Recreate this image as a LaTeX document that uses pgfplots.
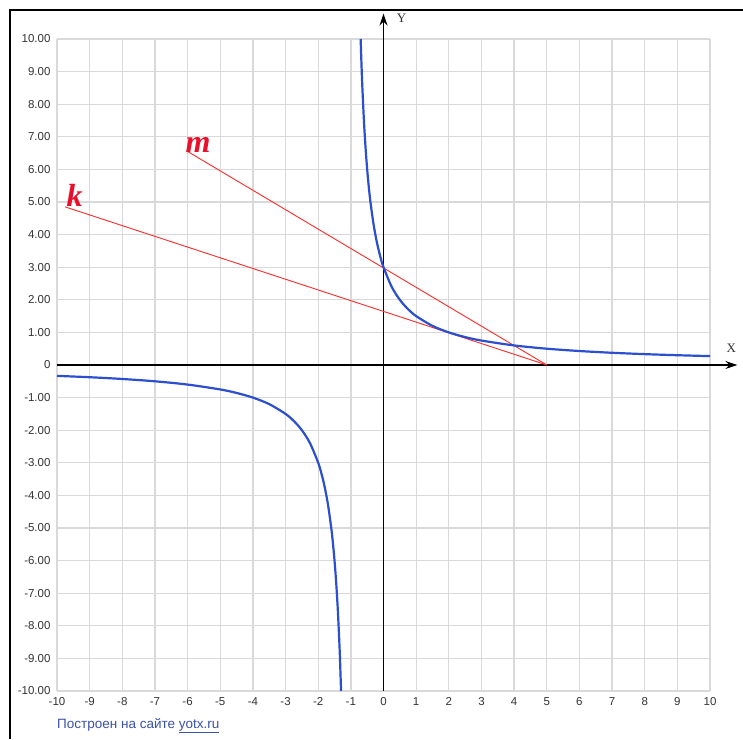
\documentclass[border=0pt]{standalone}
\usepackage{fontspec}
\setmainfont{Liberation Sans}
\newfontfamily\serifb{Liberation Serif}
\usepackage{pgfplots}
\pgfplotsset{compat=1.18}
\usetikzlibrary{arrows.meta}
\definecolor{gridc}{HTML}{D9D9D9}
\definecolor{curve}{HTML}{2B4FCF}
\definecolor{redl}{HTML}{FF2A2A}
\definecolor{redt}{HTML}{E8102A}
\definecolor{linkc}{HTML}{3A52A8}
\definecolor{tickc}{HTML}{333333}
\begin{document}
\begin{tikzpicture}
\useasboundingbox (0pt,0pt) rectangle (743pt,739pt);
\fill[white] (0pt,0pt) rectangle (743pt,739pt);
\draw[line width=2pt] (10pt,0pt) -- (10pt,729pt) -- (743pt,729pt);
\begin{axis}[
  at={(57pt,48pt)}, anchor=south west,
  scale only axis, width=653pt, height=652pt,
  xmin=-10, xmax=10, ymin=-10, ymax=10,
  axis line style={draw=none},
  grid=major, grid style={gridc, line width=1.3pt},
  major tick length=0pt,
  xtick={-10,-9,...,10}, ytick={-10,-9,...,10},
  yticklabels={-10.00,-9.00,-8.00,-7.00,-6.00,-5.00,-4.00,-3.00,-2.00,-1.00,0,1.00,2.00,3.00,4.00,5.00,6.00,7.00,8.00,9.00,10.00},
  xticklabel style={font=\fontsize{11.5}{13}\selectfont, text=tickc, yshift=-3pt},
  yticklabel style={font=\fontsize{11.5}{13}\selectfont, text=tickc, xshift=-3pt},
  /pgf/number format/assume math mode=true,
  clip=false,
]
\draw[black, line width=1.2pt, -{Stealth[length=12pt,width=8pt]}] (axis cs:-10,0) -- (axis cs:10.84,0);
\draw[black, line width=1.2pt, -{Stealth[length=12pt,width=8pt]}] (axis cs:0,-10) -- (axis cs:0,10.78);
\node[font=\serifb\fontsize{13}{15}\selectfont, text=tickc] at (axis cs:10.65,0.5) {X};
\node[font=\serifb\fontsize{13}{15}\selectfont, text=tickc] at (axis cs:0.55,10.65) {Y};
\addplot[redl, line width=0.9pt] coordinates {(-6,6.55) (5,0)};
\addplot[redl, line width=0.9pt] coordinates {(-9.75,4.85) (5,0)};
\addplot[curve, line width=2.2pt, smooth] coordinates {
(-0.7,10) (-0.67,9.091) (-0.65,8.571) (-0.6,7.5) (-0.55,6.667) (-0.5,6) (-0.45,5.455) (-0.4,5) (-0.3,4.286) (-0.2,3.75) (-0.1,3.333) (0,3) (0.25,2.4) (0.5,2) (0.75,1.714) (1,1.5) (1.5,1.2) (2,1) (2.5,0.857) (3,0.75) (4,0.6) (5,0.5) (6,0.4286) (7,0.375) (8,0.3333) (9,0.3) (10,0.2727)};
\addplot[curve, line width=2.2pt, smooth] coordinates {
(-10,-0.3333) (-9,-0.375) (-8,-0.4286) (-7,-0.5) (-6,-0.6) (-5,-0.75) (-4.5,-0.857) (-4,-1) (-3.5,-1.2) (-3,-1.5) (-2.75,-1.714) (-2.5,-2) (-2.25,-2.4) (-2,-3) (-1.9,-3.333) (-1.8,-3.75) (-1.7,-4.286) (-1.6,-5) (-1.55,-5.455) (-1.5,-6) (-1.45,-6.667) (-1.4,-7.5) (-1.35,-8.571) (-1.33,-9.091) (-1.3,-10)};
\node[font=\serifb\bfseries\itshape\fontsize{32}{34}\selectfont, text=redt, anchor=base] at (axis cs:-5.68,6.53) {m};
\node[font=\serifb\bfseries\itshape\fontsize{32}{34}\selectfont, text=redt, anchor=base] at (axis cs:-9.46,4.85) {k};
\end{axis}
\node[anchor=base west, font=\fontsize{13.5}{15}\selectfont, text=linkc, inner sep=0pt] at (57pt,11pt) {Построен на сайте \underline{yotx.ru}};
\end{tikzpicture}
\end{document}
